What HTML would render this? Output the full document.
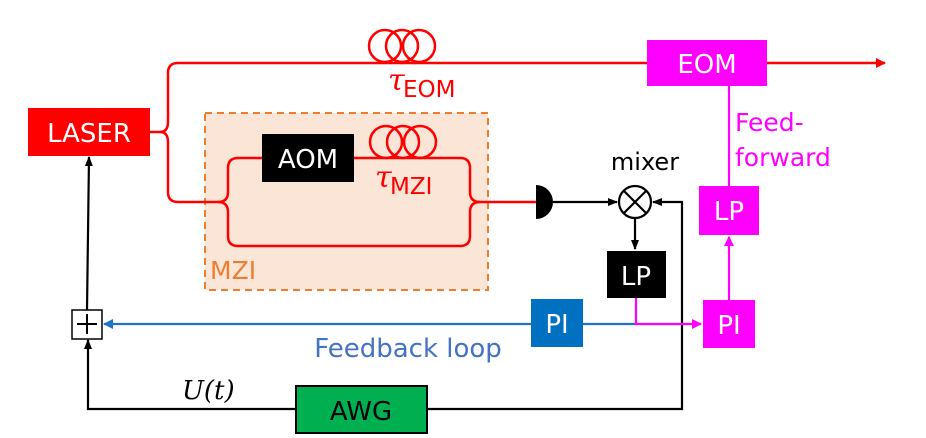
<!DOCTYPE html>
<html><head><style>body{margin:0;background:#fff}svg{display:block}</style></head><body>
<svg width="926" height="438" viewBox="0 0 926 438" xmlns="http://www.w3.org/2000/svg" font-family="DejaVu Sans, Liberation Sans, sans-serif">
<defs>
<marker id="ak" markerWidth="10" markerHeight="10" refX="9" refY="5" orient="auto" markerUnits="userSpaceOnUse"><path d="M0,1 L10,5 L0,9z" fill="#000"/></marker>
<marker id="ab" markerWidth="10" markerHeight="10" refX="9" refY="5" orient="auto" markerUnits="userSpaceOnUse"><path d="M0,0 L10,5 L0,10z" fill="#1f73c0"/></marker>
<marker id="am" markerWidth="10" markerHeight="10" refX="9" refY="5" orient="auto" markerUnits="userSpaceOnUse"><path d="M0,0 L10,5 L0,10z" fill="#f0f"/></marker>
<marker id="ar" markerWidth="10" markerHeight="10" refX="9" refY="5" orient="auto" markerUnits="userSpaceOnUse"><path d="M0,0 L10,5 L0,10z" fill="#f00"/></marker>
</defs>
<rect x="205" y="113" width="283" height="177" fill="#fbe5d6" stroke="#ed7d31" stroke-width="2" stroke-dasharray="7,5"/>
<text x="210" y="279" font-size="25" fill="#ed7d31">MZI</text>
<g fill="none" stroke="#f00" stroke-width="2.5">
<path d="M150,132 H160 Q168,132 168,122 V73 Q168,63 178,63 H885" marker-end="url(#ar)"/>
<path d="M160,132 Q168,132 168,142 V192 Q168,202 178,202 H218 Q228,202 228,192 V168 Q228,158 238,158 H460 Q470,158 470,168 V192 Q470,202 480,202 H536"/>
<path d="M218,202 Q228,202 228,212 V236 Q228,246 238,246 H460 Q470,246 470,236 V212 Q470,202 480,202"/>
<circle cx="385" cy="46" r="16"/><circle cx="402" cy="46" r="16"/><circle cx="419" cy="46" r="16"/>
<circle cx="386" cy="142" r="16"/><circle cx="403" cy="142" r="16"/><circle cx="420" cy="142" r="16"/>
</g>
<text x="388" y="90" font-size="30" fill="#f00" font-style="italic" font-family="DejaVu Serif, serif">τ</text>
<text x="403" y="97" font-size="23" fill="#f00">EOM</text>
<text x="375" y="187" font-size="30" fill="#f00" font-style="italic" font-family="DejaVu Serif, serif">τ</text>
<text x="390" y="194" font-size="23" fill="#f00">MZI</text>
<rect x="28" y="108" width="122" height="48" fill="#f00"/>
<text x="89" y="142" font-size="26" fill="#fff" text-anchor="middle">LASER</text>
<rect x="262" y="134" width="92" height="48" fill="#000"/>
<text x="308" y="168" font-size="26" fill="#fff" text-anchor="middle">AOM</text>
<rect x="647" y="40" width="120" height="46" fill="#f0f"/>
<text x="707" y="73" font-size="26" fill="#fff" text-anchor="middle">EOM</text>
<text x="735" y="131" font-size="25" fill="#f0f">Feed-</text>
<text x="735" y="166" font-size="25" fill="#f0f">forward</text>
<path d="M536,185 A17,17 0 0 1 536,219 Z" fill="#000"/>
<text x="645" y="170" font-size="24" fill="#000" text-anchor="middle">mixer</text>
<g fill="none" stroke="#000" stroke-width="2.2">
<path d="M553,202 H617" marker-end="url(#ak)"/>
<circle cx="635" cy="202" r="16"/>
<path d="M624,191 L646,213 M646,191 L624,213"/>
<path d="M427,409 H682 V202 H653" marker-end="url(#ak)"/>
<path d="M635,218 V249" marker-end="url(#ak)"/>
<path d="M296,409 H88 V340" marker-end="url(#ak)"/>
<path d="M87,310 L89,157" marker-end="url(#ak)"/>
</g>
<rect x="607" y="251" width="59" height="47" fill="#000"/>
<text x="636" y="285" font-size="26" fill="#fff" text-anchor="middle">LP</text>
<path d="M636,324 H104" fill="none" stroke="#1f73c0" stroke-width="2.2" marker-end="url(#ab)"/>
<rect x="72" y="310" width="30" height="29" fill="#fff" stroke="#000" stroke-width="1.5"/>
<path d="M77,324 H97 M87,314 V334" stroke="#000" stroke-width="2"/>
<rect x="531" y="299" width="52" height="48" fill="#0070c0"/>
<text x="557" y="333" font-size="26" fill="#fff" text-anchor="middle">PI</text>
<text x="408" y="357" font-size="26" fill="#4472c4" text-anchor="middle">Feedback loop</text>
<g fill="none" stroke="#f0f" stroke-width="2.2">
<path d="M636,298 V324 H701" marker-end="url(#am)"/>
<path d="M729,300 V237" marker-end="url(#am)"/>
<path d="M729,186 V86"/>
</g>
<rect x="703" y="300" width="52" height="48" fill="#f0f"/>
<text x="729" y="334" font-size="26" fill="#fff" text-anchor="middle">PI</text>
<rect x="699" y="186" width="60" height="49" fill="#f0f"/>
<text x="729" y="220" font-size="26" fill="#fff" text-anchor="middle">LP</text>
<rect x="296" y="386" width="131" height="47" fill="#00b050" stroke="#000" stroke-width="2"/>
<text x="361" y="420" font-size="26" fill="#000" text-anchor="middle">AWG</text>
<text x="182" y="399" font-size="26" font-style="italic" font-family="DejaVu Serif, serif">U(t)</text>
</svg>
</body></html>
